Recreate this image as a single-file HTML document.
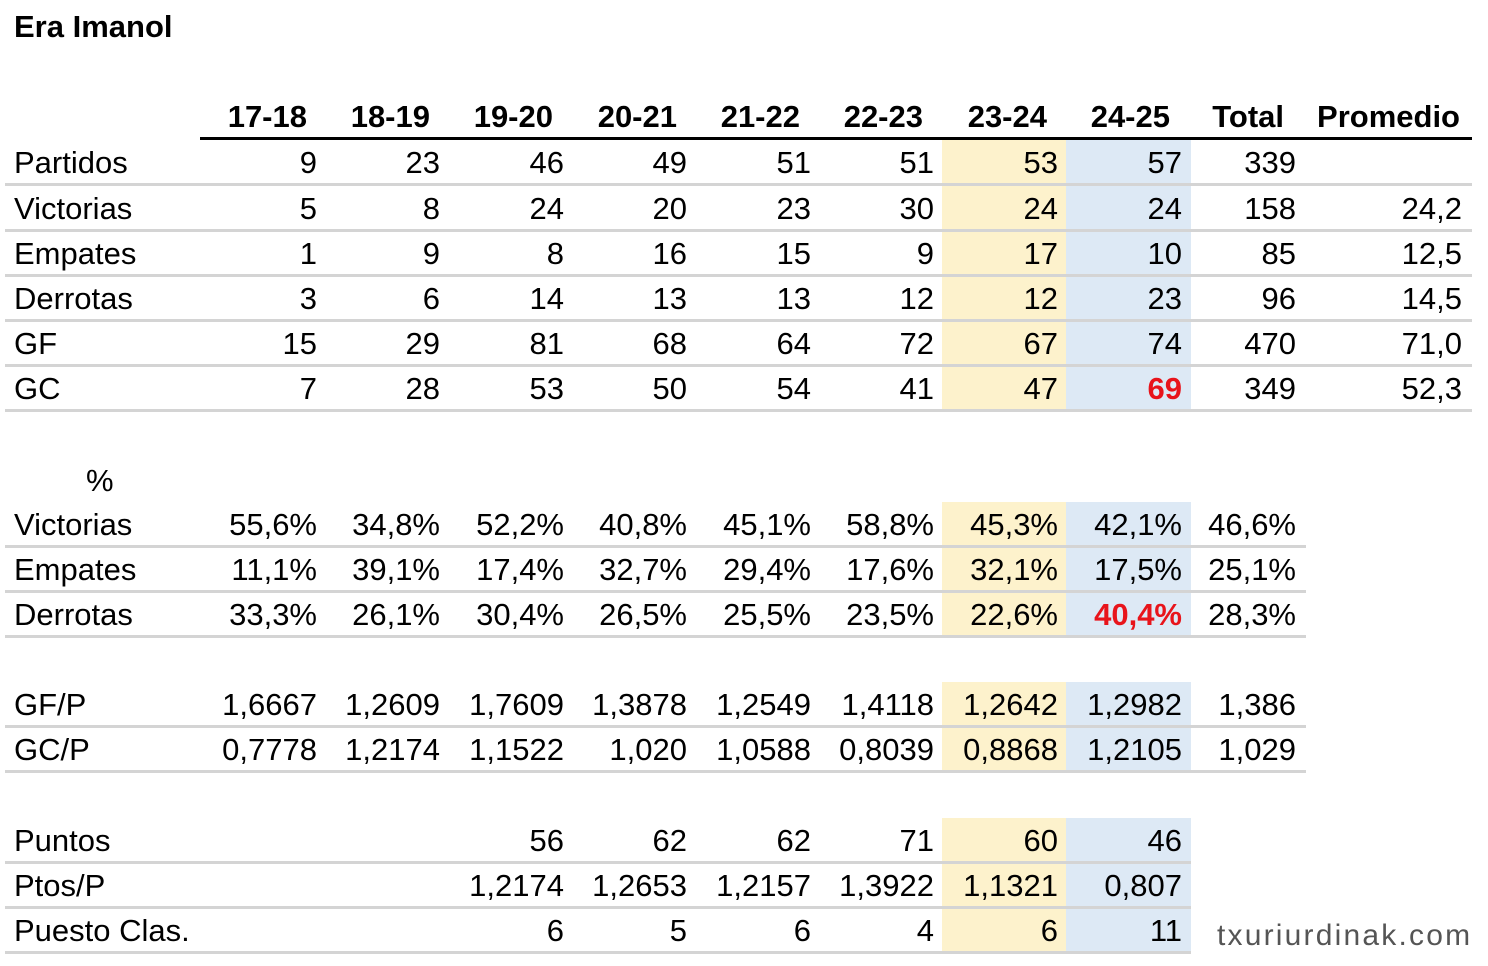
<!DOCTYPE html>
<html><head><meta charset="utf-8"><style>
body{margin:0;width:1488px;height:966px;background:#fff;position:relative;overflow:hidden;font-family:"Liberation Sans",Arial,sans-serif;color:#000}
.t{position:absolute;font-size:31px;line-height:36px;white-space:nowrap}
.r{text-align:right}
.b{font-weight:bold}
.box{position:absolute}
.ln{position:absolute;height:3px;background:#d4d4d4}
</style></head><body>
<div id="root"></div>
<script>
const R=[317,440,564,687,811,934,1058,1182,1296,1462];
let h='';
function box(x,y,w,hh,c){h+=`<div class="box" style="left:${x}px;top:${y}px;width:${w}px;height:${hh}px;background:${c}"></div>`;}
function txt(s,x,y,cls,extra){h+=`<div class="t ${cls||''}" style="left:${x}px;top:${y-17}px;${extra||''}">${s}</div>`;}
function rtxt(s,right,y,style){h+=`<div class="t r" style="left:${right-250}px;width:250px;top:${y-17}px;${style||''}">${s}</div>`;}
[[140,410],[502,636],[682,771],[818,952]].forEach(([a,b])=>{box(942,a,124,b-a,'#fdf2cc');box(1066,a,125,b-a,'#dde9f5');});
txt('Era Imanol',14,26,'b','font-size:31px');
const H=['17-18','18-19','19-20','20-21','21-22','22-23','23-24','24-25','Total','Promedio'];
H.forEach((s,i)=>rtxt(s,[307,430,553,677,800,923,1047,1170,1284,1460][i],116,'font-weight:bold;font-size:31px'));
box(200,137,1272,3,'#000');
function block(rows,ys,lineEnd){
 rows.forEach((r,k)=>{
  const y=ys[k];
  txt(r[0],14,y);
  r[1].forEach((v,i)=>{ if(v==null||v==='')return;
   let st='';
   if(typeof v==='object'){st='color:#e8141b;font-weight:bold';v=v.v;}
   rtxt(v,R[i],y,st);
  });
  h+=`<div class="ln" style="left:5px;top:${y+21}px;width:${lineEnd-5}px"></div>`;
 });
}
const red=v=>({v});
block([
 ['Partidos',[9,23,46,49,51,51,53,57,339,'']],
 ['Victorias',[5,8,24,20,23,30,24,24,158,'24,2']],
 ['Empates',[1,9,8,16,15,9,17,10,85,'12,5']],
 ['Derrotas',[3,6,14,13,13,12,12,23,96,'14,5']],
 ['GF',[15,29,81,68,64,72,67,74,470,'71,0']],
 ['GC',[7,28,53,50,54,41,47,red(69),349,'52,3']],
],[162,208,253,298,343,388],1472);
txt('%',86,480);
block([
 ['Victorias',['55,6%','34,8%','52,2%','40,8%','45,1%','58,8%','45,3%','42,1%','46,6%']],
 ['Empates',['11,1%','39,1%','17,4%','32,7%','29,4%','17,6%','32,1%','17,5%','25,1%']],
 ['Derrotas',['33,3%','26,1%','30,4%','26,5%','25,5%','23,5%','22,6%',red('40,4%'),'28,3%']],
],[524,569,614],1306);
block([
 ['GF/P',['1,6667','1,2609','1,7609','1,3878','1,2549','1,4118','1,2642','1,2982','1,386']],
 ['GC/P',['0,7778','1,2174','1,1522','1,020','1,0588','0,8039','0,8868','1,2105','1,029']],
],[704,749],1306);
block([
 ['Puntos',['','','56','62','62','71','60','46']],
 ['Ptos/P',['','','1,2174','1,2653','1,2157','1,3922','1,1321','0,807']],
 ['Puesto Clas.',['','','6','5','6','4','6','11']],
],[840,885,930],1191);
h+=`<div class="t" style="left:1217px;top:918px;color:#555;font-size:30px;letter-spacing:2.2px">txuriurdinak.com</div>`;
document.getElementById('root').innerHTML=h;
</script>
</body></html>
